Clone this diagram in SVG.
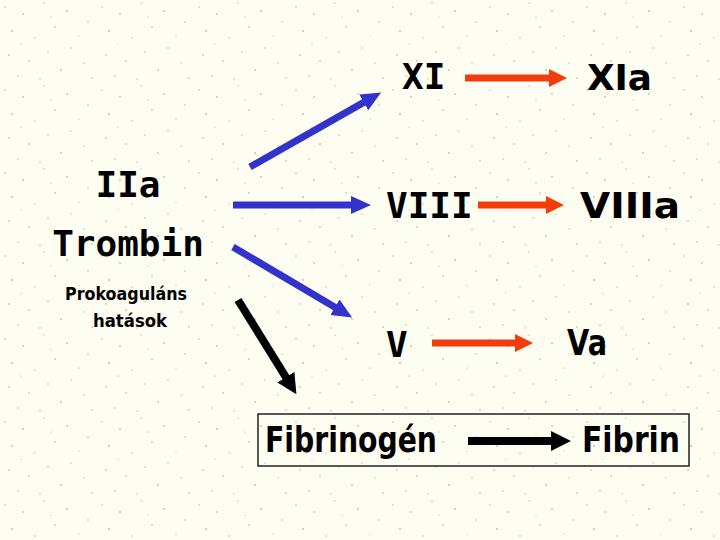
<svg xmlns="http://www.w3.org/2000/svg" width="720" height="540" viewBox="0 0 720 540">
  <defs>
    <pattern id="speckle" width="97" height="83" patternUnits="userSpaceOnUse">
      <rect width="97" height="83" fill="#FDFDF1"/>
      <g fill="#8f8f86">
        <circle cx="5" cy="7" r="0.8" opacity="0.6"/>
        <circle cx="23" cy="14" r="1" opacity="0.5"/>
        <circle cx="44" cy="3" r="0.7" opacity="0.6"/>
        <circle cx="67" cy="11" r="1.1" opacity="0.45"/>
        <circle cx="88" cy="22" r="0.8" opacity="0.6"/>
        <circle cx="12" cy="31" r="1.2" opacity="0.4"/>
        <circle cx="35" cy="38" r="0.7" opacity="0.6"/>
        <circle cx="55" cy="27" r="0.9" opacity="0.5"/>
        <circle cx="71" cy="48" r="0.7" opacity="0.6"/>
        <circle cx="9" cy="55" r="0.9" opacity="0.5"/>
        <circle cx="29" cy="61" r="1.1" opacity="0.4"/>
        <circle cx="48" cy="52" r="0.8" opacity="0.55"/>
        <circle cx="61" cy="70" r="1" opacity="0.5"/>
        <circle cx="84" cy="63" r="0.7" opacity="0.6"/>
        <circle cx="18" cy="76" r="0.8" opacity="0.55"/>
        <circle cx="40" cy="79" r="0.7" opacity="0.6"/>
        <circle cx="92" cy="78" r="0.9" opacity="0.45"/>
        <circle cx="51" cy="17" r="0.6" opacity="0.6"/>
        <circle cx="21" cy="44" r="0.6" opacity="0.6"/>
        <circle cx="79" cy="36" r="0.6" opacity="0.6"/>
      </g>
    </pattern>
    <marker id="hBlue" viewBox="0 -10 20 20" markerWidth="20" markerHeight="20" refX="1" refY="0" orient="auto" markerUnits="userSpaceOnUse">
      <path d="M0,-9 L20,0 L0,9 Z" fill="#3333CC"/>
    </marker>
    <marker id="hRed" viewBox="0 -10 18 20" markerWidth="18" markerHeight="20" refX="1" refY="0" orient="auto" markerUnits="userSpaceOnUse">
      <path d="M0,-9 L18,0 L0,9 Z" fill="#F23C0C"/>
    </marker>
    <marker id="hBlack" viewBox="0 -10 20 20" markerWidth="20" markerHeight="20" refX="1" refY="0" orient="auto" markerUnits="userSpaceOnUse">
      <path d="M0,-10 L20,0 L0,10 Z" fill="#000"/>
    </marker>
  </defs>
  <style>
    .mono { font-family: "DejaVu Sans Mono", "Liberation Mono", monospace; font-size: 36px; font-weight: bold; fill: #000; }
    .comic { font-family: "DejaVu Sans", "Noto Sans", sans-serif; font-size: 35px; font-weight: bold; fill: #000; }
    .small { font-family: "DejaVu Sans", "Noto Sans", sans-serif; font-size: 18px; font-weight: bold; fill: #000; }
    .blue { stroke: #3333CC; stroke-width: 7; fill: none; marker-end: url(#hBlue); }
    .red { stroke: #F23C0C; stroke-width: 7; fill: none; marker-end: url(#hRed); }
    .black { stroke: #000; stroke-width: 8; fill: none; marker-end: url(#hBlack); }
    .box { fill: none; stroke: #000; stroke-width: 1.3; }
  </style>

  <rect width="720" height="540" fill="url(#speckle)"/>

  <g id="trombin">
    <text class="mono" x="128" y="197" text-anchor="middle">IIa</text>
    <text class="mono" x="128" y="256" text-anchor="middle">Trombin</text>
    <text class="small" x="126" y="300" text-anchor="middle" textLength="122" lengthAdjust="spacingAndGlyphs">Prokoaguláns</text>
    <text class="small" x="130" y="327" text-anchor="middle" textLength="74" lengthAdjust="spacingAndGlyphs">hatások</text>
  </g>

  <g id="XI"><text class="mono" x="402" y="89">XI</text></g>
  <g id="XIa"><text class="comic" x="587" y="90" textLength="65" lengthAdjust="spacingAndGlyphs">XIa</text></g>
  <g id="VIII"><text class="mono" x="386" y="218">VIII</text></g>
  <g id="VIIIa"><text class="comic" x="580" y="218" textLength="100" lengthAdjust="spacingAndGlyphs">VIIIa</text></g>
  <g id="V"><text class="mono" x="386" y="357">V</text></g>
  <g id="Va"><text class="comic" x="567" y="355" textLength="40" lengthAdjust="spacingAndGlyphs">Va</text></g>

  <g id="fibrin-box">
    <rect class="box" x="258" y="414" width="431" height="52"/>
  </g>
  <g id="fibrinogen"><text class="comic" x="265" y="452" textLength="172" lengthAdjust="spacingAndGlyphs">Fibrinogén</text></g>
  <g id="fibrin"><text class="comic" x="582" y="452" textLength="98" lengthAdjust="spacingAndGlyphs">Fibrin</text></g>

  <g id="connectors">
    <line class="blue" x1="250" y1="167" x2="364.6" y2="101.9"/>
    <line class="blue" x1="233" y1="205" x2="352" y2="205"/>
    <line class="blue" x1="233" y1="247" x2="335.8" y2="307.8"/>
    <line class="black" x1="238" y1="300" x2="286.4" y2="378"/>
    <line class="red" x1="465" y1="78" x2="550" y2="78"/>
    <line class="red" x1="478" y1="205" x2="547" y2="205"/>
    <line class="red" x1="432" y1="343" x2="516" y2="343"/>
    <line class="black" x1="468" y1="441" x2="552" y2="441"/>
  </g>
</svg>
